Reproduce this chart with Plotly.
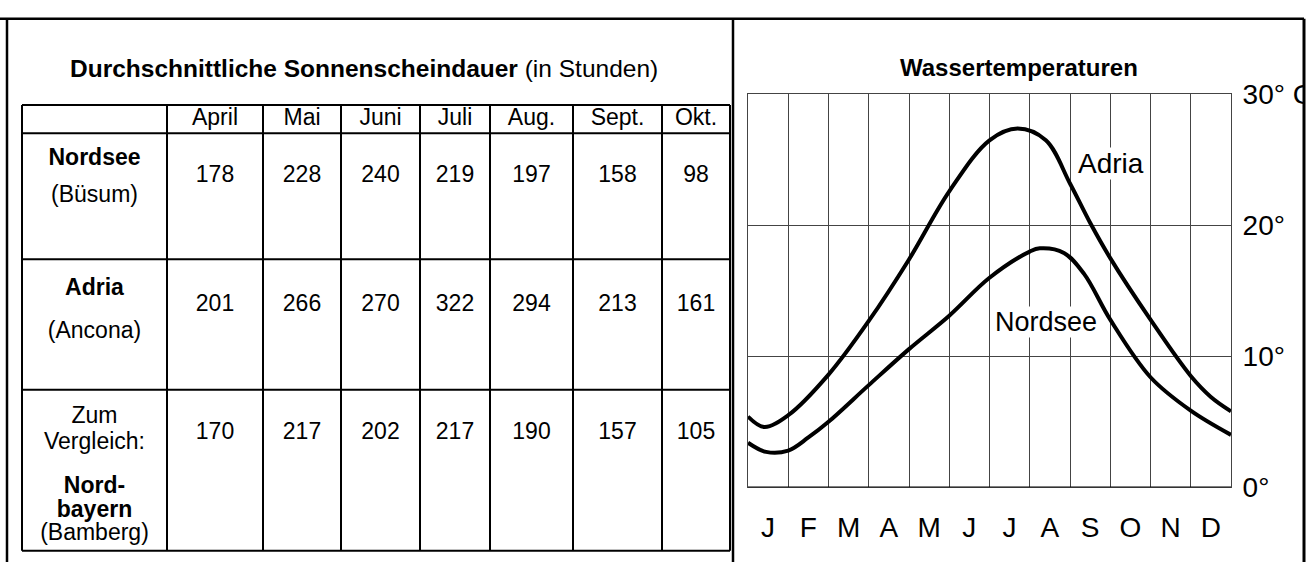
import plotly.graph_objects as go

# ---------------- data ----------------
table_months = ["April", "Mai", "Juni", "Juli", "Aug.", "Sept.", "Okt."]
sun_nordsee = [178, 228, 240, 219, 197, 158, 98]
sun_adria = [201, 266, 270, 322, 294, 213, 161]
sun_bayern = [170, 217, 202, 217, 190, 157, 105]

adria_x = [0, 0.4, 1.0, 2.0, 3.0, 4.0, 5.0, 6.0, 6.7, 7.4, 8.0, 8.5, 9.0, 10.0, 11.0, 11.5, 12.0]
adria_t = [5.4, 4.6, 5.5, 8.6, 12.7, 17.4, 22.6, 26.5, 27.4, 26.5, 23.2, 20.2, 17.5, 12.8, 8.5, 6.9, 5.8]
nord_x = [0, 0.45, 1.0, 1.5, 2.0, 3.0, 4.0, 5.0, 6.0, 7.0, 7.25, 7.85, 8.35, 9.0, 10.0, 11.0, 12.0]
nord_t = [3.4, 2.7, 2.8, 3.8, 5.0, 7.8, 10.55, 13.1, 16.0, 18.0, 18.25, 17.9, 16.3, 12.8, 8.4, 5.85, 4.0]

month_labels = ["J", "F", "M", "A", "M", "J", "J", "A", "S", "O", "N", "D"]
temp_ticks = [0, 10, 20, 30]
temp_ticktext = ["0°", "10°", "20°", "30° C"]

# ---------------- layout constants (pixels) ----------------
W, H = 1313, 578
FONT = "Arial, Liberation Sans, sans-serif"


def px(x):
    return x / W


def py(y):
    return 1 - y / H


col_edges = [22, 167, 263, 341, 420, 490, 573, 662, 730]
row_edges = [95, 125, 258, 396, 566]
value_y = [170, 307, 442]

fig = go.Figure()

# ---------------- temperature chart ----------------
for xs, ys in [(adria_x, adria_t), (nord_x, nord_t)]:
    fig.add_trace(go.Scatter(x=xs, y=ys, mode="lines",
                             line=dict(color="black", width=4, shape="spline", smoothing=1.0),
                             hoverinfo="skip", showlegend=False, xaxis="x", yaxis="y"))

# ---------------- table texts ----------------
col_centers = [(col_edges[i] + col_edges[i + 1]) / 2 for i in range(len(col_edges) - 1)]
head_y = (row_edges[0] + row_edges[1]) / 2
tx, ty, tt = [], [], []
for i, m in enumerate(table_months):
    tx.append(col_centers[i + 1]); ty.append(head_y); tt.append(m)
for r, vals in enumerate([sun_nordsee, sun_adria, sun_bayern]):
    for i, v in enumerate(vals):
        tx.append(col_centers[i + 1]); ty.append(value_y[r]); tt.append(str(v))
row_labels = [("<b>Nordsee</b>", 152), ("(Büsum)", 192),
              ("<b>Adria</b>", 290), ("(Ancona)", 335),
              ("Zum", 425), ("Vergleich:", 452), ("<b>Nord-</b>", 499), ("<b>bayern</b>", 524), ("(Bamberg)", 549)]
for s, yy in row_labels:
    tx.append(col_centers[0]); ty.append(yy); tt.append(s)

fig.add_trace(go.Scatter(x=tx, y=ty, text=tt, mode="text", textposition="middle center",
                         textfont=dict(family=FONT, size=23, color="black"), hoverinfo="skip",
                         showlegend=False, xaxis="x2", yaxis="y2", cliponaxis=False))

shapes = []
# table grid
for xe in col_edges:
    shapes.append(dict(type="line", xref="x2", yref="y2", x0=xe, x1=xe, y0=row_edges[0], y1=row_edges[-1],
                       line=dict(color="black", width=2)))
for ye in row_edges:
    shapes.append(dict(type="line", xref="x2", yref="y2", x0=col_edges[0], x1=col_edges[-1], y0=ye, y1=ye,
                       line=dict(color="black", width=2)))
# zero line of temperature chart
shapes.append(dict(type="line", xref="x", yref="y", x0=0, x1=12, y0=0, y1=0,
                   line=dict(color="black", width=1.5), layer="above"))
# blank strip right of the frame (clips the "C")
shapes.append(dict(type="rect", xref="paper", yref="paper", x0=px(1304), x1=1.01, y0=0, y1=1,
                   fillcolor="white", line=dict(width=0), layer="above"))
# outer frame
frame = dict(color="black", width=2.5)
shapes.append(dict(type="line", xref="paper", yref="paper", x0=0, x1=px(1304), y0=py(4), y1=py(4), line=frame, layer="above"))
shapes.append(dict(type="line", xref="paper", yref="paper", x0=px(7), x1=px(7), y0=py(4), y1=0, line=frame, layer="above"))
shapes.append(dict(type="line", xref="paper", yref="paper", x0=px(733), x1=px(733), y0=py(4), y1=0, line=frame, layer="above"))
shapes.append(dict(type="line", xref="paper", yref="paper", x0=px(1304), x1=px(1304), y0=py(4), y1=0,
                   line=dict(color="black", width=3), layer="above"))

annotations = [
    dict(text="<b>Durchschnittliche Sonnenscheindauer</b> (in Stunden)", xref="paper", yref="paper",
         x=px(364), y=py(57), showarrow=False, font=dict(family=FONT, size=24.5, color="black"),
         xanchor="center", yanchor="middle"),
    dict(text="<b>Wassertemperaturen</b>", xref="paper", yref="paper", x=px(1019), y=py(55), showarrow=False,
         font=dict(family=FONT, size=24, color="black"), xanchor="center", yanchor="middle"),
    dict(text="Adria", xref="x", yref="y", x=9.02, y=24.7, showarrow=False, bgcolor="white", borderpad=0,
         font=dict(family=FONT, size=28, color="black")),
    dict(text="Nordsee", xref="x", yref="y", x=7.4, y=12.6, showarrow=False, bgcolor="white", borderpad=0,
         font=dict(family=FONT, size=27, color="black")),
]

fig.update_layout(
    width=W, height=H, margin=dict(l=0, r=0, t=0, b=0, pad=0),
    paper_bgcolor="white", plot_bgcolor="white",
    font=dict(family=FONT, color="black"),
    showlegend=False,
    xaxis=dict(domain=[px(748), px(1231)], range=[0, 12], anchor="y",
               tickmode="array", tickvals=[i + 0.5 for i in range(12)], ticktext=month_labels,
               ticks="outside", ticklen=15, tickcolor="rgba(0,0,0,0)",
               tickfont=dict(family=FONT, size=28, color="black"),
               showgrid=False, zeroline=False,
               showline=True, mirror=True, linecolor="#444", linewidth=1,
               minor=dict(tickmode="linear", tick0=0, dtick=1, showgrid=True, gridcolor="#444", gridwidth=1, ticks=""),
               fixedrange=True),
    yaxis=dict(domain=[py(499), py(84)], range=[0, 30], anchor="x", side="right",
               tickmode="array", tickvals=temp_ticks, ticktext=temp_ticktext,
               ticks="outside", ticklen=5, tickcolor="rgba(0,0,0,0)",
               tickfont=dict(family=FONT, size=28, color="black"),
               showgrid=True, gridcolor="#444", gridwidth=1, zeroline=False,
               showline=True, mirror=True, linecolor="#444", linewidth=1, fixedrange=True),
    xaxis2=dict(domain=[0, px(733)], range=[0, 733], anchor="y2", visible=False, fixedrange=True),
    yaxis2=dict(domain=[0, 1], range=[H, 0], anchor="x2", visible=False, fixedrange=True),
    shapes=shapes, annotations=annotations,
)

fig.write_html("out.html", config={"displayModeBar": False},
               post_script="document.body.style.margin='0';document.body.style.overflow='hidden';")
